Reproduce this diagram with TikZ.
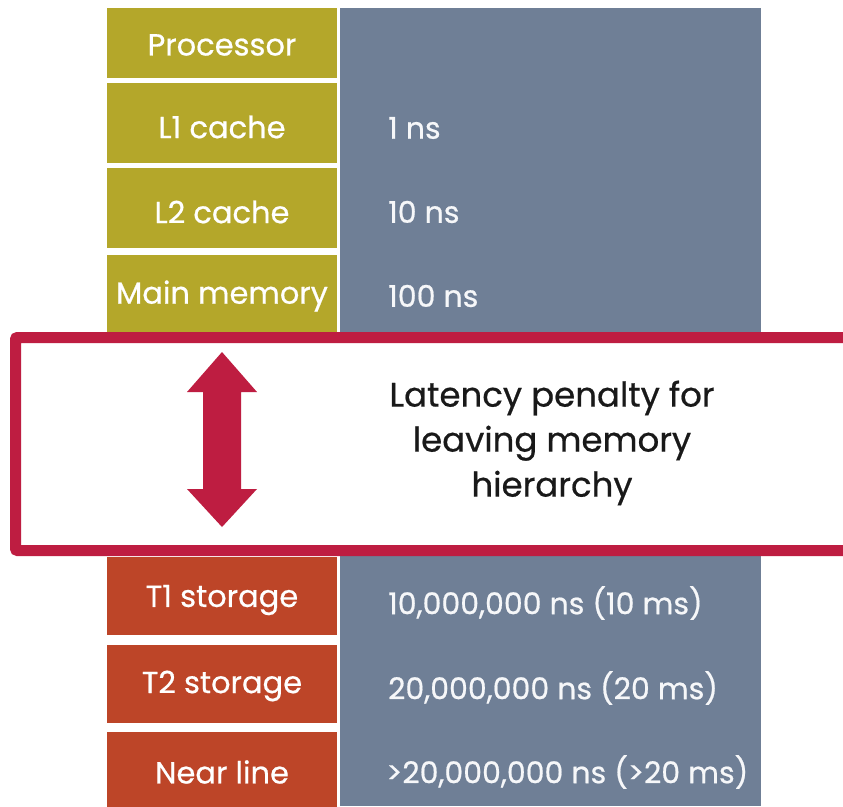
\documentclass[tikz,border=0pt]{standalone}
\usepackage{fontspec}
\setmainfont{Poppins}[FakeBold=0.6]
\definecolor{olive}{RGB}{180,167,42}
\definecolor{rust}{RGB}{189,69,40}
\definecolor{slate}{RGB}{111,127,150}
\definecolor{crimson}{RGB}{190,29,65}
\definecolor{inkdark}{RGB}{25,25,25}
\tikzset{
  lvl/.style={rectangle, inner sep=0pt, minimum width=230pt},
  lvltext/.style={text=white, inner sep=0pt, font=\fontsize{30.5}{35}\selectfont},
  olivebox/.style={lvl, fill=olive},
  rustbox/.style={lvl, fill=rust},
  val/.style={anchor=west, inner sep=0pt, text=white!94!slate,
    font=\fontsize{30}{35}\selectfont},
}
\begin{document}
\begin{tikzpicture}[x=1pt,y=-1pt]
\useasboundingbox (0,0) rectangle (843,806);
% value column
\fill[slate] (340,8) rectangle (761,806);
% level boxes
\node[olivebox, minimum height=70pt] (proc) at (222,43) {};
\node[olivebox, minimum height=80pt] (l1) at (222,123) {};
\node[olivebox, minimum height=80pt] (l2) at (222,208) {};
\node[olivebox, minimum height=80pt] (mm) at (222,295) {};
\node[rustbox, minimum height=78pt] (t1) at (222,596) {};
\node[rustbox, minimum height=78pt] (t2) at (222,684) {};
\node[rustbox, minimum height=80pt] (nl) at (222,772) {};
\node[lvltext] (tproc) at ([yshift=-2pt]proc.center) {Processor};
\node[lvltext] (tl1) at ([yshift=-4pt]l1.center) {L1 cache};
\node[lvltext] (tl2) at ([yshift=-4pt]l2.center) {L2 cache};
\node[lvltext] (tmm) at ([yshift=-1pt]mm.center) {Main memory};
\node[lvltext] (tt1) at ([yshift=-4pt]t1.center) {T1 storage};
\node[lvltext] (tt2) at ([yshift=-2pt]t2.center) {T2 storage};
\node[lvltext] (tnl) at ([yshift=0pt]nl.center) {Near line};
% values
\node[val] (v1) at (388,128) {1 ns};
\node[val] (v2) at (388,212) {10 ns};
\node[val] (v3) at (388,296) {100 ns};
\node[val] (v4) at (388,603) {10,000,000 ns (10 ms)};
\node[val] (v5) at (388,688) {20,000,000 ns (20 ms)};
\node[val] (v6) at (386,772) {>20,000,000 ns (>20 ms)};
% penalty band
\draw[crimson, fill=white, line width=11pt, rounded corners=2pt] (15.5,337.5) rectangle (870,550.5);
\fill[crimson] (222,352) -- (257,392) -- (241,392) -- (241,489) -- (257,489) -- (222,527)
  -- (187,489) -- (203,489) -- (203,392) -- (187,392) -- cycle;
\node[align=center, text=inkdark, inner sep=0pt, font=\fontsize{34}{45}\selectfont] (pen) at (552,443)
  {Latency penalty for\\leaving memory\\hierarchy};
\end{tikzpicture}
\end{document}
